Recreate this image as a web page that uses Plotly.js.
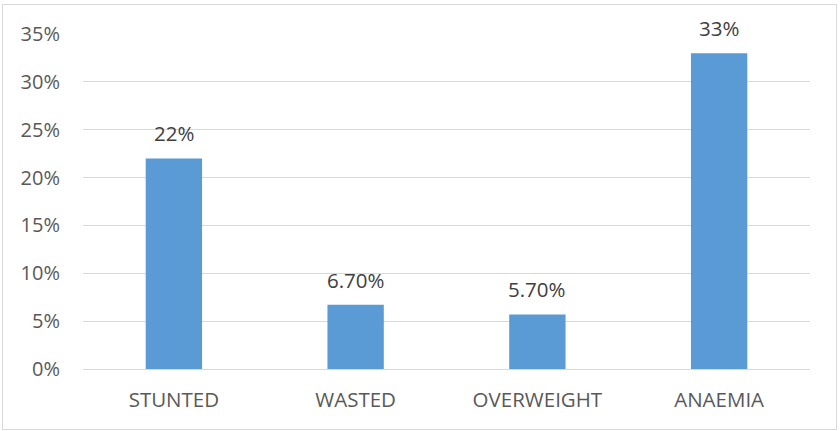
<!DOCTYPE html>
<html>
<head>
<meta charset="utf-8">
<script src="https://cdn.plot.ly/plotly-3.0.1.min.js"></script>
<style>
  html, body { margin: 0; padding: 0; background: #fff; }
  #chart { width: 840px; height: 431px; position: relative; }
  #frame { position: absolute; left: 2px; top: 4px; width: 833px; height: 424px; border: 1px solid #d9d9d9; pointer-events: none; }
</style>
</head>
<body>
<div id="chart"></div>
<div id="frame"></div>
<script>
const categories = ["STUNTED", "WASTED", "OVERWEIGHT", "ANAEMIA"];
const values = [22, 6.7, 5.7, 33];
const valueLabels = ["22%", "6.70%", "5.70%", "33%"];
const yTickVals = [0, 5, 10, 15, 20, 25, 30, 35];
const yTickText = ["0%", "5%", "10%", "15%", "20%", "25%", "30%", "35%"];

const fontFamily = "'Open Sans', 'Liberation Sans', sans-serif";
const textColor = "#595959";

const trace = {
  type: "bar",
  x: categories,
  y: values,
  marker: { color: "#5b9bd5" },
  width: 0.31,
  hoverinfo: "none"
};

const annotations = categories.map((c, i) => ({
  x: c, y: values[i], xref: "x", yref: "y",
  text: valueLabels[i], showarrow: false,
  yanchor: "bottom", yshift: 9,
  font: { family: fontFamily, size: 20.5, color: "#404040" }
}));

const layout = {
  width: 840, height: 431,
  margin: { l: 83, r: 30, t: 34, b: 62 },
  paper_bgcolor: "#fff", plot_bgcolor: "#fff",
  showlegend: false,
  xaxis: {
    type: "category",
    showgrid: false, zeroline: false, showline: false,
    ticks: "", ticklabelstandoff: 16,
    tickfont: { family: fontFamily, size: 20.5, color: textColor }
  },
  yaxis: {
    range: [0, 35],
    tickvals: yTickVals, ticktext: yTickText,
    showgrid: true, gridcolor: "#d9d9d9", gridwidth: 1,
    zeroline: true, zerolinecolor: "#d9d9d9", zerolinewidth: 1,
    showline: false, ticks: "", ticklabelstandoff: 22,
    tickfont: { family: fontFamily, size: 20, color: textColor }
  },
  annotations: annotations
};

Plotly.newPlot("chart", [trace], layout, { displayModeBar: false, staticPlot: true });
</script>
</body>
</html>
